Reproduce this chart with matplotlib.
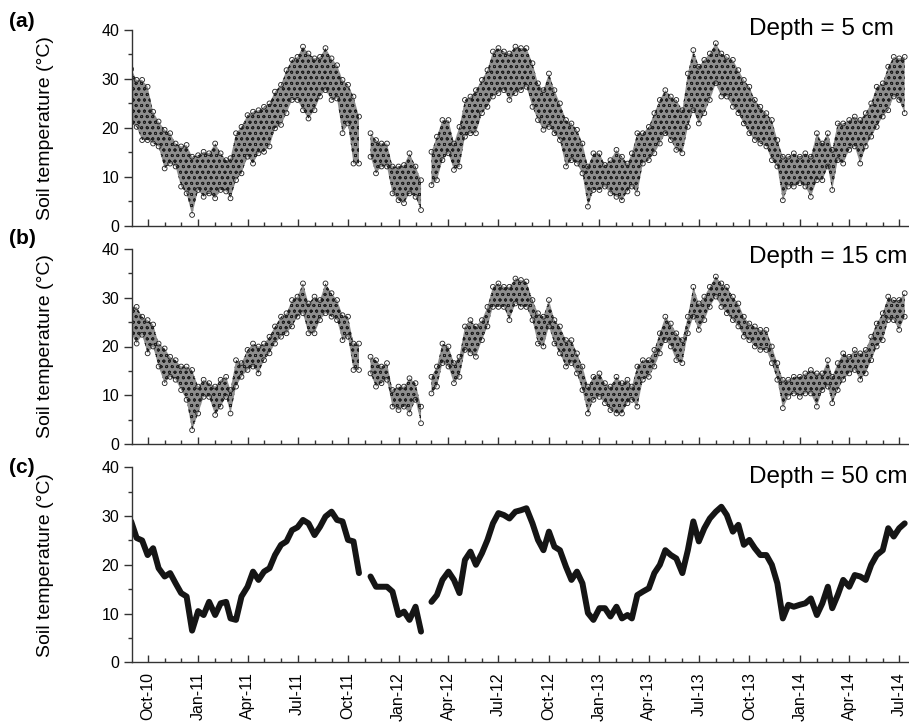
import datetime as dt
import numpy as np
import matplotlib
matplotlib.use("Agg")
import matplotlib.pyplot as plt
import matplotlib.dates as mdates

plt.rcParams['font.family'] = ['Liberation Sans', 'DejaVu Sans']
plt.rcParams['hatch.linewidth'] = 0.6

# sampling dates: 1st, 11th and 21st of every month, Sep-2010 .. Jul-2014
months = [(y, m) for y in range(2010, 2015) for m in range(1, 13)
          if (2010, 9) <= (y, m) <= (2014, 7)]
dates = [dt.date(y, m, d) for (y, m) in months for d in (1, 11, 21)][:140]

# depth 5 cm : daily high / low envelope (deg C)
t5_high = [32.0, 29.8, 29.8, 28.4, 23.3, 21.3, 19.6, 18.9, 16.8, 16.2, 16.5, 14.1,
           14.4, 15.1, 14.8, 16.8, 14.8, 13.4, 13.8, 18.9, 20.2, 22.6, 23.3, 23.6,
           24.3, 25.0, 27.4, 28.8, 31.8, 33.9, 34.5, 36.6, 35.2, 34.2, 34.5, 36.3,
           34.2, 32.8, 29.8, 28.8, 26.4, 22.3, None, 18.9, 17.5, 16.8, 16.8, 12.1,
           12.1, 12.4, 14.8, 12.1, 9.3, None, 15.1, 18.2, 21.6, 21.6, 16.8, 20.2,
           25.7, 26.4, 27.7, 29.8, 31.8, 35.6, 36.3, 35.6, 35.2, 36.6, 36.3, 36.3,
           33.2, 29.1, 27.7, 31.1, 27.7, 25.0, 21.6, 20.9, 19.6, 16.8, 12.1, 14.8,
           14.8, 12.4, 13.4, 15.5, 14.1, 12.7, 14.8, 18.9, 18.9, 20.2, 23.0, 25.7,
           27.7, 26.4, 25.7, 23.6, 31.1, 35.9, 32.5, 33.9, 35.2, 37.3, 35.2, 34.5,
           33.9, 31.8, 29.8, 28.4, 25.7, 24.3, 23.0, 21.6, 17.5, 14.1, 14.1, 14.8,
           14.1, 14.8, 14.1, 18.9, 16.8, 18.9, 15.5, 20.9, 20.9, 21.6, 22.3, 21.6,
           23.0, 25.0, 28.4, 29.1, 32.5, 34.5, 34.2, 34.5]
t5_low = [21.0, 20.2, 17.5, 17.5, 16.8, 16.2, 11.7, 12.7, 12.1, 8.0, 6.6, 2.2,
          7.3, 5.9, 6.6, 5.6, 7.3, 7.0, 5.6, 9.3, 10.7, 14.1, 12.7, 14.8,
          15.1, 16.2, 19.9, 20.6, 23.0, 25.7, 25.7, 23.6, 21.9, 23.6, 26.4, 27.7,
          25.7, 26.0, 18.9, 20.9, 12.7, 12.7, None, 14.1, 10.7, 12.1, 12.1, 6.6,
          5.2, 4.6, 6.6, 5.9, 3.2, None, 8.3, 9.3, 13.4, 14.8, 11.4, 12.1,
          18.2, 18.9, 18.9, 23.0, 24.3, 26.4, 27.1, 27.7, 25.7, 27.1, 27.7, 28.4,
          24.3, 21.6, 19.6, 20.2, 18.9, 17.5, 12.1, 13.4, 12.7, 10.7, 3.9, 7.3,
          7.3, 8.0, 6.6, 5.9, 5.2, 7.0, 8.0, 6.6, 12.7, 13.4, 14.8, 16.8,
          18.9, 17.5, 15.5, 14.8, 20.2, 23.6, 20.9, 23.0, 25.7, 29.1, 26.4, 26.4,
          24.3, 23.0, 20.9, 18.9, 17.5, 16.8, 16.2, 13.4, 12.1, 5.2, 8.0, 8.0,
          8.7, 8.0, 5.9, 9.3, 9.3, 12.1, 7.3, 13.4, 12.7, 15.5, 16.2, 12.7,
          16.2, 18.2, 20.2, 22.3, 23.6, 26.4, 25.7, 23.0]

# depth 15 cm : daily high / low envelope (deg C)
t15_high = [27.8, 28.1, 26.1, 25.4, 24.5, 20.6, 19.6, 17.9, 17.2, 15.9, 15.9, 15.2,
            11.8, 13.2, 12.5, 11.8, 13.2, 13.8, 11.1, 17.2, 16.6, 19.3, 20.6, 20.0,
            20.6, 22.0, 24.1, 26.1, 26.8, 29.5, 30.2, 32.9, 28.8, 30.2, 29.5, 32.9,
            30.9, 29.5, 26.4, 26.1, 20.6, 20.6, None, 17.9, 17.2, 15.9, 16.6, 11.1,
            11.8, 11.8, 13.5, 12.5, 7.7, None, 13.8, 15.9, 20.6, 20.0, 16.6, 17.9,
            24.1, 25.4, 24.1, 25.4, 28.1, 32.2, 32.9, 32.2, 32.2, 33.9, 33.6, 33.3,
            29.5, 26.8, 26.1, 29.5, 25.4, 24.1, 21.3, 21.3, 18.6, 15.9, 11.8, 13.8,
            14.5, 12.5, 11.8, 13.8, 12.5, 13.2, 11.8, 15.9, 17.2, 17.2, 19.3, 22.7,
            26.1, 24.7, 22.7, 21.3, 26.1, 32.2, 28.8, 30.2, 32.2, 34.3, 32.9, 32.2,
            30.2, 28.8, 26.1, 24.7, 24.1, 23.4, 23.4, 20.0, 16.6, 13.2, 13.2, 13.8,
            13.8, 14.5, 15.2, 14.5, 14.5, 17.2, 13.8, 16.6, 18.6, 17.9, 19.3, 18.6,
            19.3, 22.0, 24.7, 26.8, 30.2, 29.5, 29.5, 30.9]
t15_low = [22.7, 20.6, 22.4, 18.6, 20.0, 15.9, 12.5, 13.8, 13.2, 11.1, 9.1, 2.9,
           6.3, 9.7, 9.7, 6.0, 7.7, 9.7, 6.3, 11.8, 13.8, 15.2, 15.9, 14.5,
           17.2, 18.6, 20.6, 22.0, 22.7, 24.1, 26.1, 26.8, 22.7, 22.7, 25.4, 26.8,
           26.1, 25.4, 21.3, 22.0, 15.2, 15.2, None, 14.5, 11.8, 12.5, 13.2, 7.7,
           7.0, 7.7, 6.3, 9.1, 4.3, None, 10.4, 11.8, 16.6, 15.9, 12.5, 13.8,
           19.3, 18.6, 17.9, 21.3, 24.1, 28.1, 28.1, 28.1, 25.4, 28.8, 28.1, 28.1,
           25.4, 20.6, 20.0, 24.1, 20.6, 18.6, 15.9, 16.6, 14.5, 11.1, 6.3, 9.1,
           9.7, 8.4, 7.0, 6.3, 6.3, 8.4, 9.1, 7.7, 13.2, 13.8, 15.9, 18.6,
           21.3, 20.0, 17.2, 16.6, 22.7, 26.1, 23.4, 25.4, 28.1, 30.2, 28.1, 26.8,
           25.4, 24.1, 22.0, 21.3, 20.0, 19.3, 19.3, 16.6, 13.2, 7.4, 9.7, 10.4,
           9.7, 10.4, 10.4, 7.7, 11.1, 11.8, 8.4, 11.1, 13.2, 14.5, 15.2, 13.2,
           14.5, 17.2, 20.0, 21.3, 25.4, 25.4, 23.4, 26.1]

# depth 50 cm (deg C)
t50 = [28.9, 25.5, 25.0, 22.0, 23.4, 19.3, 17.6, 18.3, 16.2, 14.2, 13.5, 6.5,
       10.5, 9.7, 12.4, 9.7, 12.1, 12.4, 9.0, 8.7, 13.5, 15.5, 18.6, 16.9,
       18.6, 19.3, 22.0, 24.1, 24.8, 27.1, 27.7, 29.2, 28.5, 26.1, 27.8, 29.9,
       30.9, 29.2, 28.9, 25.1, 24.8, 18.3, None, 17.6, 15.5, 15.5, 15.5, 14.5,
       9.7, 10.4, 8.7, 11.4, 6.3, None, 12.4, 13.8, 16.9, 18.6, 16.9, 14.2,
       21.0, 22.7, 20.0, 22.4, 25.1, 28.5, 30.6, 30.2, 29.5, 30.9, 31.2, 31.6,
       28.5, 25.1, 23.0, 26.8, 23.7, 23.0, 19.6, 16.9, 18.6, 16.2, 10.1, 8.7,
       11.1, 11.1, 9.4, 11.4, 9.0, 9.7, 9.0, 13.8, 14.5, 15.2, 18.3, 20.0,
       23.0, 22.0, 21.3, 18.3, 23.0, 28.9, 24.8, 27.5, 29.5, 30.9, 31.9, 30.2,
       26.8, 28.2, 24.1, 25.1, 23.4, 22.0, 22.0, 20.0, 16.2, 9.0, 11.8, 11.4,
       11.8, 12.1, 13.1, 9.7, 12.1, 15.5, 11.1, 13.8, 16.9, 15.5, 17.9, 17.6,
       16.9, 20.0, 22.0, 23.0, 27.5, 25.8, 27.5, 28.5]

depth_labels = ['Depth = 5 cm', 'Depth = 15 cm', 'Depth = 50 cm']
panel_labels = ['(a)', '(b)', '(c)']


def arr(v):
    return np.array([np.nan if x is None else x for x in v], dtype=float)


W, H = 909, 723
fig = plt.figure(figsize=(W / 100, H / 100), dpi=100)

# axes rectangles in pixels: (left, top, right, bottom)
boxes = [(131.7, 30.0, 908, 225.7), (131.7, 248.7, 908, 444.3), (131.7, 467.3, 908, 662.3)]
axes = []
for l, t, r, b in boxes:
    axes.append(fig.add_axes([l / W, 1 - b / H, (r - l) / W, (b - t) / H]))

x0, x1 = dt.date(2010, 9, 2), dt.date(2014, 7, 17)
edge = '#1e1e1e'

for i, ax in enumerate(axes):
    if i < 2:
        hi = arr([t5_high, t15_high][i])
        lo = arr([t5_low, t15_low][i])
        ax.fill_between(dates, lo, hi, facecolor='#8e8e8e', edgecolor=edge,
                        hatch='ooo', linewidth=0)
        ax.scatter(dates, hi, s=12, facecolors='none', edgecolors=edge, linewidths=0.6)
        ax.scatter(dates, lo, s=12, facecolors='none', edgecolors=edge, linewidths=0.6)
    else:
        ax.plot(dates, arr(t50), color='#151515', lw=4.3, solid_capstyle='round',
                solid_joinstyle='round')

    ax.set_xlim(x0, x1)
    ax.set_ylim(0, 40)
    ax.spines['top'].set_visible(False)
    ax.spines['right'].set_visible(False)
    for s in ('left', 'bottom'):
        ax.spines[s].set_color('#333333')
        ax.spines[s].set_linewidth(1.0)

    ax.set_yticks([0, 10, 20, 30, 40])
    ax.set_yticks([5, 15, 25, 35], minor=True)
    ax.tick_params(axis='y', which='major', direction='out', length=6, width=1,
                   color='#333333', labelsize=11.5, pad=3)
    ax.tick_params(axis='y', which='minor', direction='out', length=3, width=1,
                   color='#333333')

    ax.xaxis.set_major_locator(mdates.MonthLocator(bymonth=[1, 4, 7, 10]))
    ax.xaxis.set_minor_locator(mdates.MonthLocator())
    ax.xaxis.set_major_formatter(mdates.DateFormatter('%b-%y'))
    ax.tick_params(axis='x', which='major', direction='in', length=5, width=1,
                   color='#333333', labelsize=11.5, pad=7, labelrotation=90)
    ax.tick_params(axis='x', which='minor', direction='in', length=3, width=1,
                   color='#333333')
    if i < 2:
        ax.tick_params(axis='x', labelbottom=False)

    ax.set_ylabel('Soil temperature (\u00b0C)', fontsize=14)
    ax.yaxis.set_label_coords((54 - 131.7) / (908 - 131.7), 0.5)

# depth annotations and panel letters (pixel baselines)
for txt, yb in zip(depth_labels, [35, 262.7, 483]):
    fig.text(749 / W, 1 - yb / H, txt, fontsize=17.5, ha='left', va='baseline')
for txt, yb in zip(panel_labels, [27, 244, 473]):
    fig.text(9 / W, 1 - yb / H, txt, fontsize=15, fontweight='bold',
             ha='left', va='baseline')

fig.savefig('out.png', dpi=100)
